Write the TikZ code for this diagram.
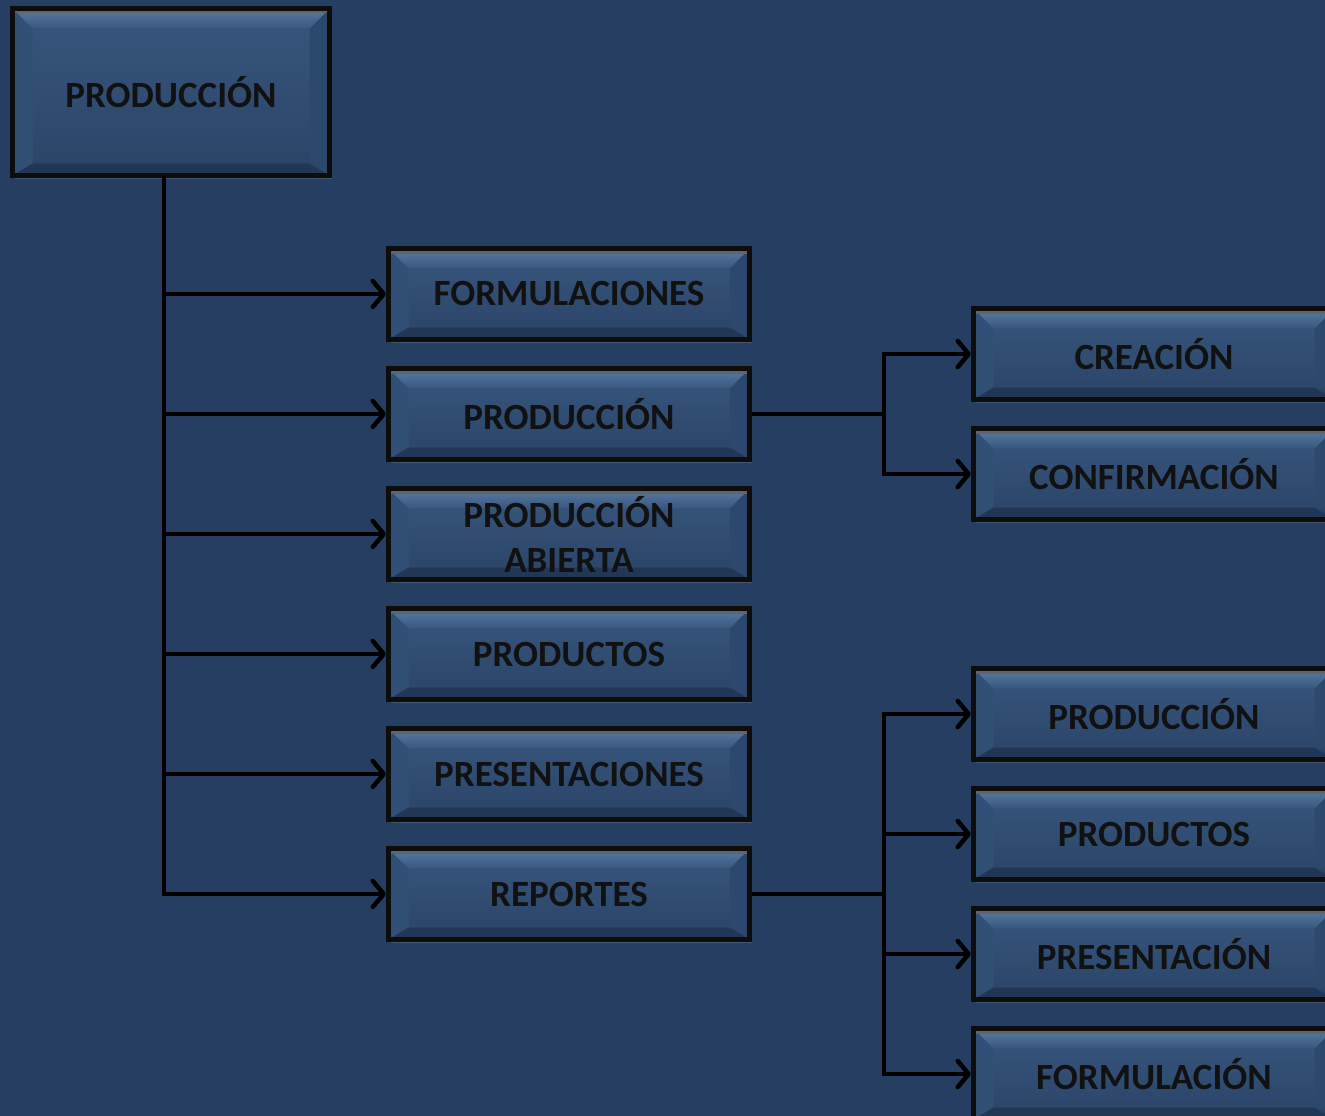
\documentclass[tikz,border=0pt]{standalone}
\usepackage{fontspec}
\setmainfont{Carlito}
\usetikzlibrary{arrows.meta,shadows}
\definecolor{bgc}{RGB}{38,62,97}
\definecolor{facetop}{RGB}{56,86,126}
\definecolor{facebot}{RGB}{42,68,103}
\definecolor{bevtop}{RGB}{92,124,164}
\definecolor{bevleft}{RGB}{50,80,118}
\definecolor{bevright}{RGB}{44,72,108}
\definecolor{bevbot}{RGB}{34,55,86}
\definecolor{strip}{RGB}{100,100,104}
\definecolor{txt}{RGB}{17,17,17}
\tikzset{
  bev/.style={
    path picture={
      \coordinate (NW) at (path picture bounding box.north west);
      \coordinate (SE) at (path picture bounding box.south east);
      \coordinate (NE) at (NW -| SE);
      \coordinate (SW) at (NW |- SE);
      \coordinate (iNW) at ([shift={(20pt,-20pt)}]NW);
      \coordinate (iNE) at ([shift={(-20pt,-20pt)}]NE);
      \coordinate (iSW) at ([shift={(20pt,12pt)}]SW);
      \coordinate (iSE) at ([shift={(-20pt,12pt)}]SE);
      \shade[top color=facetop, bottom color=facebot] (NW) rectangle (SE);
      \fill[bevleft] (NW) -- (iNW) -- (iSW) -- (SW) -- cycle;
      \fill[bevright] (NE) -- (iNE) -- (iSE) -- (SE) -- cycle;
      \fill[bevbot] (SW) -- (iSW) -- (iSE) -- (SE) -- cycle;
      \shade[top color=bevtop, bottom color=facetop] (NW) -- (NE) -- (iNE) -- (iNW) -- cycle;
      \fill[strip] (NW) rectangle ([yshift=-5pt]NE);
    }
  },
  box/.style={bev, draw=black!95, line width=5pt, inner sep=0pt,
    minimum width=361pt, minimum height=91pt, text=txt, align=center,
    font=\fontsize{37}{45}\selectfont\bfseries,
    drop shadow={opacity=0.35, shadow xshift=2pt, shadow yshift=-3pt}},
  conn/.style={line width=4.5pt, draw=black},
  arr/.style={conn, -{Straight Barb[length=11pt,width=26pt,line width=4.5pt,round]}},
}
\begin{document}
\begin{tikzpicture}[x=1pt,y=-1pt]
\useasboundingbox (0,0) rectangle (1325,1116);
\fill[bgc] (0,0) rectangle (1325,1116);
\clip (0,0) rectangle (1325,1116);
% top
\node[box, minimum width=317pt, minimum height=167pt] (top) at (171,92) {PRODUCCIÓN};
% middle column
\node[box] (m1) at (569,294) {FORMULACIONES};
\node[box] (m2) at (569,414) {PRODUCCIÓN};
\node[box] (m3) at (569,534) {PRODUCCIÓN\\ABIERTA};
\node[box] (m4) at (569,654) {PRODUCTOS};
\node[box] (m5) at (569,774) {PRESENTACIONES};
\node[box] (m6) at (569,894) {REPORTES};
% right column
\node[box] (r1) at (1154,354) {CREACIÓN};
\node[box] (r2) at (1154,474) {CONFIRMACIÓN};
\node[box] (r3) at (1154,714) {PRODUCCIÓN};
\node[box] (r4) at (1154,834) {PRODUCTOS};
\node[box] (r5) at (1154,954) {PRESENTACIÓN};
\node[box] (r6) at (1154,1074) {FORMULACIÓN};
% trunk
\coordinate (t0) at ([xshift=-7pt]top.south);
\coordinate (tb) at (164,894);
\draw[conn, line cap=rect] (t0) -- (tb);
\foreach \n in {m1,m2,m3,m4,m5,m6}{
  \draw[arr] (t0 |- \n.west) -- (\n.west);
}
% branch from m2
\coordinate (b1) at (884,414);
\draw[conn] (m2.east) -- (b1);
\draw[conn, line cap=rect] (b1 |- r1.west) -- (b1 |- r2.west);
\foreach \n in {r1,r2}{
  \draw[arr] (b1 |- \n.west) -- (\n.west);
}
% branch from m6
\coordinate (b2) at (884,894);
\draw[conn] (m6.east) -- (b2);
\draw[conn, line cap=rect] (b2 |- r3.west) -- (b2 |- r6.west);
\foreach \n in {r3,r4,r5,r6}{
  \draw[arr] (b2 |- \n.west) -- (\n.west);
}
\end{tikzpicture}
\end{document}
